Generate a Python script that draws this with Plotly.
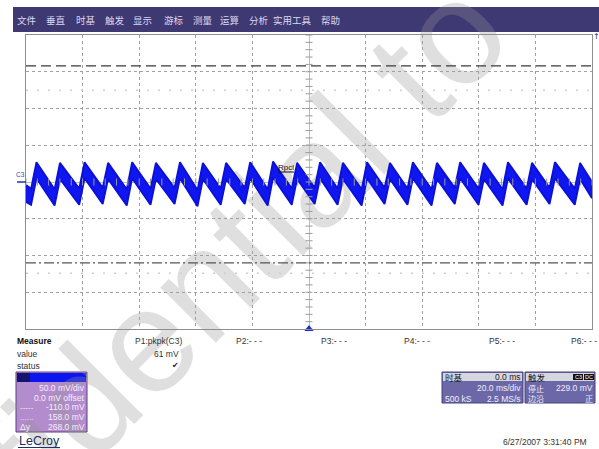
import numpy as np
import plotly.graph_objects as go

W, H = 599, 449
LATIN = "Liberation Sans, Arial, sans-serif"
CJK = "Noto Sans CJK SC, sans-serif"

# Acquisition settings
time_div_ms = 20.0
volt_div_mv = 50.0
n_hdiv, n_vdiv = 10, 8
sample_count = "500 kS"
sample_rate = "2.5 MS/s"
trigger_t_ms = 0.0
trigger_level_mv = 229.0

# C3 ripple: each cycle rises quickly from a trough to a peak, then decays
trough_t_ms = [-98.2, -89.9, -81.2, -72.9, -64.4, -56.0, -47.5, -39.4, -31.2, -22.7, -14.6, -6.1,
               2.0, 10.1, 18.6, 26.7, 34.8, 43.3, 51.5, 59.9, 68.4, 76.9, 85.0, 93.9]
trough_mv = [-31, -32, -31, -30, -32, -31, -30, -33, -31, -30, -32, -31,
             -30, -31, -32, -30, -31, -32, -30, -31, -32, -31, -30, -31]
peak_t_ms = [-96.3, -88.0, -79.3, -71.0, -62.5, -54.1, -45.6, -37.5, -29.3, -20.8, -12.7, -4.2,
             3.9, 12.0, 20.5, 28.6, 36.7, 45.2, 53.4, 61.8, 70.3, 78.8, 86.9, 95.8]
peak_mv = [27, 26, 27, 26, 27, 26, 27, 26, 26, 27, 28, 26,
           27, 26, 27, 26, 27, 26, 27, 26, 27, 26, 27, 26]
band_mv = 22.0          # vertical width of the noisy trace
edge_t_ms = [-100.0, 100.0]
edge_low_mv = [-27.0, -22.0]
edge_high_mv = [-4.0, 0.0]

# Horizontal cursors and faint reference levels
cursor_hi_mv = 158.0
cursor_lo_mv = -110.0
guide_mv = [125.0, -124.0]

menu_items = ["文件", "垂直", "时基", "触发", "显示", "游标", "测量", "运算", "分析", "实用工具", "帮助"]
menu_x = [27.5, 55.5, 86, 115, 142.5, 173.5, 202.5, 229, 258.5, 292.5, 330.5]
param_slots = ["P2:- - -", "P3:- - -", "P4:- - -", "P5:- - -", "P6:- - -"]
param_x = [235, 320, 403, 488, 570]

# ---- build the trace envelope ----
t_env = [edge_t_ms[0]]
lo_env = [edge_low_mv[0]]
hi_env = [edge_high_mv[0]]
for tt, tl, tp, ph in zip(trough_t_ms, trough_mv, peak_t_ms, peak_mv):
    t_env += [tt, tp]
    lo_env += [tl, ph - band_mv]
    hi_env += [tl + band_mv, ph]
t_env.append(edge_t_ms[1])
lo_env.append(edge_low_mv[1])
hi_env.append(edge_high_mv[1])

pkpk = max(peak_mv) - min(trough_mv)

x_half = time_div_ms * n_hdiv / 2
y_half = volt_div_mv * n_vdiv / 2

fig = go.Figure()

fig.add_trace(go.Scatter(x=t_env, y=lo_env, mode="lines",
                         line=dict(color="#0a10d6", width=1.8), hoverinfo="skip"))
fig.add_trace(go.Scatter(x=t_env, y=hi_env, mode="lines", fill="tonexty",
                         fillcolor="#1016f0", line=dict(color="#0a10d6", width=1.8),
                         hoverinfo="skip"))

# graticule ticks on the centre lines
tx = np.arange(-x_half, x_half + 0.01, time_div_ms / 5)
ty = np.arange(-y_half, y_half + 0.01, volt_div_mv / 5)
fig.add_trace(go.Scatter(x=tx, y=np.zeros_like(tx), mode="markers",
                         marker=dict(symbol="line-ns", size=5, line=dict(width=1, color="#9a9a9a")),
                         hoverinfo="skip"))
fig.add_trace(go.Scatter(x=np.zeros_like(ty), y=ty, mode="markers",
                         marker=dict(symbol="line-ew", size=5, line=dict(width=1, color="#9a9a9a")),
                         hoverinfo="skip"))

# trigger position marker
fig.add_trace(go.Scatter(x=[trigger_t_ms], y=[-y_half], mode="markers", cliponaxis=False,
                         marker=dict(symbol="triangle-up", size=8, color="#1a2ad8"),
                         hoverinfo="skip"))

axis_common = dict(showgrid=True, gridcolor="#a0a0a0", griddash="dot", gridwidth=1,
                   showticklabels=False, ticks="", zeroline=True, zerolinecolor="#bdbdbd",
                   zerolinewidth=1, showline=True, mirror=True, linecolor="#8e8e8e",
                   linewidth=1, fixedrange=True)

fig.update_layout(
    width=W, height=H, autosize=False,
    margin=dict(l=0, r=0, t=0, b=0),
    paper_bgcolor="white", plot_bgcolor="rgba(0,0,0,0)",
    showlegend=False,
    xaxis=dict(range=[-x_half, x_half], domain=[26 / W, 592 / W],
               tick0=-x_half, dtick=time_div_ms, **axis_common),
    yaxis=dict(range=[-y_half, y_half], domain=[1 - 329 / H, 1 - 35 / H],
               tick0=-y_half, dtick=volt_div_mv, **axis_common),
)


def px(x):
    return x / W


def py(y):
    return 1 - y / H


shapes = []


def rect(x0, y0, x1, y1, fill, line="rgba(0,0,0,0)", lw=0, layer="below"):
    shapes.append(dict(type="rect", xref="paper", yref="paper",
                       x0=px(x0), x1=px(x1), y0=py(y1), y1=py(y0),
                       fillcolor=fill, line=dict(color=line, width=lw), layer=layer))


# menu bar
rect(13, 7, W, 32, "#3e3873")

# cursors and reference levels
shapes.append(dict(type="line", xref="x", yref="y", x0=-x_half, x1=x_half,
                   y0=cursor_hi_mv, y1=cursor_hi_mv,
                   line=dict(color="#3a3a3a", width=1.2, dash="10px,5px"), layer="above"))
shapes.append(dict(type="line", xref="x", yref="y", x0=-x_half, x1=x_half,
                   y0=cursor_lo_mv, y1=cursor_lo_mv,
                   line=dict(color="#555555", width=1.2, dash="10px,3px,2px,3px"), layer="above"))
for g in guide_mv:
    shapes.append(dict(type="line", xref="x", yref="y", x0=-x_half, x1=x_half, y0=g, y1=g,
                       line=dict(color="#cfcfcf", width=1.5, dash="2px,9px"), layer="above"))

# C3 ground marker
shapes.append(dict(type="line", xref="paper", yref="y", x0=px(17), x1=px(26), y0=0, y1=0,
                   line=dict(color="#2030c0", width=1.5)))
# underline of the marker label
shapes.append(dict(type="line", xref="paper", yref="paper", x0=px(278), x1=px(294),
                   y0=py(172), y1=py(172), line=dict(color="#111111", width=1)))

# channel descriptor box
rect(16, 372, 87, 432, "#b28ccc", "#5e3f7e", 1)
rect(17, 373, 30, 382, "#141470")
rect(30, 373, 86, 382, "#0b16ee")

# timebase box
rect(442, 372, 523, 403, "#6c68a8", "#46427e", 1)
rect(443, 373, 522, 381, "#d6d6de")
# trigger box
rect(525, 372, 595, 403, "#6c68a8", "#46427e", 1)
rect(526, 373, 594, 381, "#d6d6de")
rect(573, 374, 583, 380, "#111111")
rect(584, 374, 594, 380, "#111111")

# LeCroy underline
shapes.append(dict(type="line", xref="paper", yref="paper", x0=px(18), x1=px(60),
                   y0=py(447.5), y1=py(447.5), line=dict(color="#203060", width=1)))

# diagonal watermark
cx, cy = 136, 330
shapes.append(dict(type="rect", xref="paper", yref="paper",
                   x0=px(cx - 5), x1=px(cx + 5), y0=py(cy + 5), y1=py(cy - 5),
                   fillcolor="rgba(0,0,0,0)", line=dict(width=0), layer="below",
                   label=dict(text="Confidential to", textangle=-45,
                              textposition="middle center",
                              font=dict(size=148, color="rgba(150,150,150,0.3)",
                                        family=LATIN))))

annotations = []


def label(x, y, text, size=8.5, color="#333333", anchor="left", family=LATIN):
    annotations.append(dict(x=px(x), y=py(y), xref="paper", yref="paper", text=text,
                            showarrow=False, xanchor=anchor, yanchor="middle",
                            borderpad=0, font=dict(size=size, color=color, family=family)))


for name, mx in zip(menu_items, menu_x):
    label(mx, 19.5, name, size=9.5, color="#dcd8f0", anchor="center", family=CJK)

label(20, 175, "C3", size=6.5, color="#3a4aa8", anchor="center")
label(286, 167, "Rpcl", size=8, color="#111111", anchor="center")
label(596, 37, "↑", size=8, color="#2a2a8a", anchor="center", family="DejaVu Sans")

# measurement table
label(16, 341, "<b>Measure</b>", size=8.5, color="#111111")
label(16, 354, "value", size=8.5)
label(16, 365.5, "status", size=8.5)
label(158, 341, "P1:pkpk(C3)", size=8.5, anchor="center")
label(180, 354, f"{pkpk:.0f} mV", size=8.5, anchor="right")
label(175, 365.5, "✔", size=8, color="#222222", anchor="center", family="DejaVu Sans")
for s, sx in zip(param_slots, param_x):
    label(sx, 341, s, size=8.5)

# channel descriptor text
box_txt = "#f6eefb"
label(86, 388, f"{volt_div_mv:.1f} mV/div", size=8.5, color=box_txt, anchor="right")
label(86, 397.5, "0.0 mV offset", size=8.5, color=box_txt, anchor="right")
label(19, 407, "-----", size=8, color=box_txt)
label(86, 407, f"{cursor_lo_mv:.1f} mV", size=8.5, color=box_txt, anchor="right")
label(19, 417, "......", size=8, color=box_txt)
label(86, 417, f"{cursor_hi_mv:.1f} mV", size=8.5, color=box_txt, anchor="right")
label(19, 427, "Δy", size=8.5, color=box_txt)
label(86, 427, f"{cursor_hi_mv - cursor_lo_mv:.1f} mV", size=8.5, color=box_txt, anchor="right")

label(18, 440.5, "LeCroy", size=12.5, color="#203060")

# timebase box text
label(444, 377, "时基", size=8.5, color="#111111", family=CJK)
label(522, 377, f"{trigger_t_ms:.1f} ms", size=8.5, color="#222222", anchor="right")
label(522, 388, f"{time_div_ms:.1f} ms/div", size=8.5, color="#eeeefa", anchor="right")
label(444, 398.5, sample_count, size=8.5, color="#eeeefa")
label(522, 398.5, sample_rate, size=8.5, color="#eeeefa", anchor="right")

# trigger box text
label(527, 377, "触发", size=8.5, color="#111111", family=CJK)
label(578, 377, "C3", size=5.5, color="#ffffff", anchor="center")
label(589, 377, "DC", size=5.5, color="#ffffff", anchor="center")
label(527, 388, "停止", size=8, color="#eeeefa", family=CJK)
label(594, 388, f"{trigger_level_mv:.1f} mV", size=8.5, color="#eeeefa", anchor="right")
label(527, 398.5, "边沿", size=8, color="#eeeefa", family=CJK)
label(594, 398.5, "正", size=8, color="#eeeefa", anchor="right", family=CJK)

label(588, 442, "6/27/2007 3:31:40 PM", size=8.5, color="#333333", anchor="right")

fig.update_layout(shapes=shapes, annotations=annotations)
fig.write_html("out.html")
